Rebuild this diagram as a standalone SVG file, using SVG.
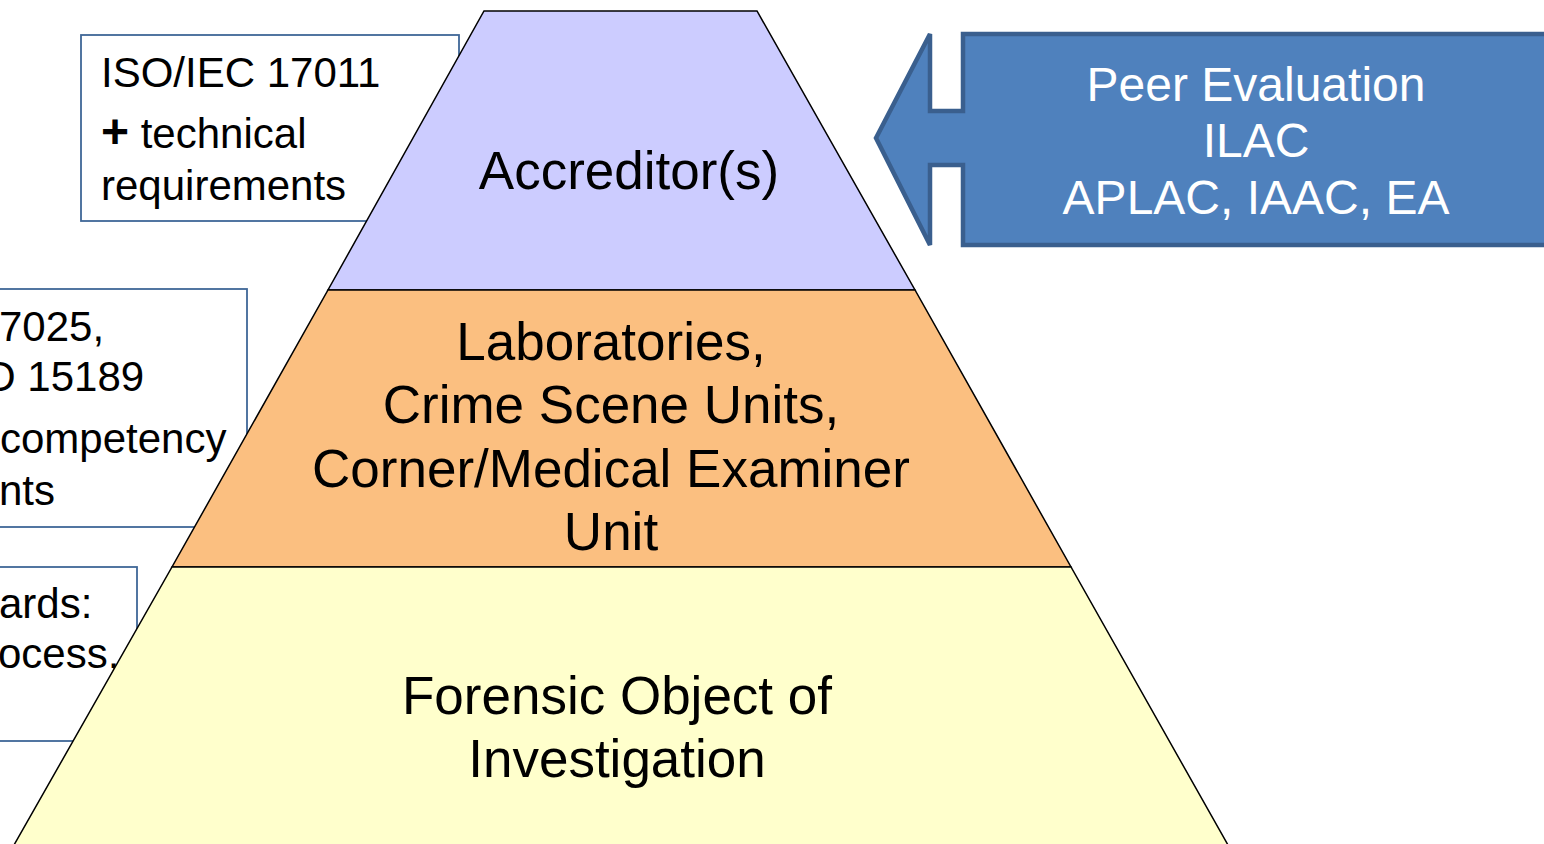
<svg xmlns="http://www.w3.org/2000/svg" width="1544" height="844" viewBox="0 0 1544 844">
<style>
.box{fill:#fff;stroke:#3f6797;stroke-width:1.8}
.lvl{stroke:#000;stroke-width:1.5}
.t{font-family:"Liberation Sans",Arial,sans-serif;fill:#000}
.bt{font-size:42px}
.pt{font-size:53px;text-anchor:middle}
.wt{font-family:"Liberation Sans",Arial,sans-serif;font-size:48px;fill:#fff;text-anchor:middle}
</style>
<rect width="1544" height="844" fill="#fff"/>
<g id="box-17011">
<rect class="box" x="81" y="35" width="378" height="186"/>
<text class="t bt" x="101" y="87">ISO/IEC 17011</text>
<text class="t bt" x="101" y="148"><tspan font-weight="bold" font-size="48">+</tspan> technical</text>
<text class="t bt" x="101" y="200">requirements</text>
</g>
<g id="box-17025">
<rect class="box" x="-10" y="289" width="257" height="238"/>
<text class="t bt" x="-1" y="341">7025,</text>
<text class="t bt" x="-17" y="391">O 15189</text>
<text class="t bt" x="0" y="453">competency</text>
<text class="t bt" x="-1" y="505">nts</text>
</g>
<g id="box-standards">
<rect class="box" x="-10" y="567" width="147" height="174"/>
<text class="t bt" x="-1" y="618">ards:</text>
<text class="t bt" x="-2" y="668">ocess,</text>
</g>
<g id="level-accreditors">
<polygon class="lvl" fill="#ccccff" points="484,11 757,11 915,290 328,290"/>
<text class="t pt" x="629" y="189">Accreditor(s)</text>
</g>
<g id="level-laboratories">
<polygon class="lvl" fill="#fbbf80" points="328,290 915,290 1071,567 172,567"/>
<text class="t pt" x="611" y="360">Laboratories,</text>
<text class="t pt" x="611" y="423">Crime Scene Units,</text>
<text class="t pt" x="611" y="487">Corner/Medical Examiner</text>
<text class="t pt" x="611" y="550">Unit</text>
</g>
<g id="level-object">
<polygon class="lvl" fill="#ffffcc" points="172,567 1071,567 1228,845 14,845"/>
<text class="t pt" x="617" y="714">Forensic Object of</text>
<text class="t pt" x="617" y="777">Investigation</text>
</g>
<g id="connectors">
<g id="peer-evaluation">
<path d="M963,34 L1550,34 L1550,245 L963,245 L963,165 L930,165 L930,245 L876,138 L930,34 L930,111 L963,111 Z" fill="#4f81bd" stroke="#3a5f8e" stroke-width="4.5" stroke-linejoin="miter"/>
<text class="wt" x="1256" y="101">Peer Evaluation</text>
<text class="wt" x="1256" y="157">ILAC</text>
<text class="wt" x="1256" y="214">APLAC, IAAC, EA</text>
</g>
</g>
</svg>
